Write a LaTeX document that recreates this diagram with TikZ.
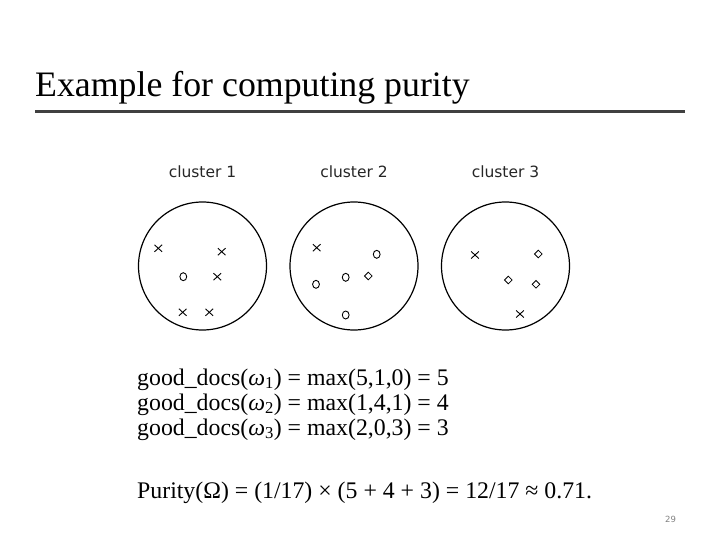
\documentclass[tikz,border=0pt]{standalone}
\usepackage{fontspec}
\setmainfont{Liberation Serif}
\newfontfamily\lblfont{DejaVu Sans}
\usetikzlibrary{shapes.geometric}
\begin{document}
\begin{tikzpicture}[x=1pt,y=-1pt,
  clus/.style={draw, line width=1.2pt, circle, minimum size=128pt, inner sep=0pt},
  clabel/.style={font=\lblfont\fontsize{15.5}{18}\selectfont, text=black!85},
  xm/.style={line width=0.9pt},
  formula/.style={anchor=base west, inner sep=0pt, font=\fontsize{23.8}{28}\selectfont}]
\useasboundingbox (0,0) rectangle (720,540);
% title
\node[anchor=base west, inner sep=0pt, font=\fontsize{35.8}{42}\selectfont] (title) at (35,97) {Example for computing purity};
\draw[line width=2.6pt, black!75] (35,111.5) coordinate (rl) -- (685,111.5) coordinate (rr);
% clusters
\node[clus] (c1) at (202.5,266) {};
\node[clus] (c2) at (354,266) {};
\node[clus] (c3) at (505.5,266) {};
\node[clabel] (l1) at (202.5,172) {cluster 1};
\node[clabel] (l2) at (354,172) {cluster 2};
\node[clabel] (l3) at (505.5,172) {cluster 3};
% marks
\newcommand{\xmk}[2]{\draw[xm] (#1-3.8,#2-3.5) -- (#1+3.8,#2+3.5) (#1-3.8,#2+3.5) -- (#1+3.8,#2-3.5);}
\newcommand{\omk}[2]{\draw[xm] (#1,#2) ellipse (3.4pt and 4pt);}
\newcommand{\dmk}[2]{\draw[line width=0.8pt] (#1-3.8,#2) -- (#1,#2-3.8) -- (#1+3.8,#2) -- (#1,#2+3.8) -- cycle;}
% cluster 1
\xmk{158.3}{248.3}
\xmk{221.7}{251.7}
\omk{183.3}{276.7}
\xmk{217.3}{276.7}
\xmk{182.7}{312.3}
\xmk{209.3}{312.3}
% cluster 2
\xmk{316.7}{247.7}
\omk{376.7}{254.3}
\omk{316}{284.3}
\omk{345.7}{277.3}
\dmk{368.3}{276}
\omk{345.7}{315}
% cluster 3
\xmk{475}{255}
\dmk{538.3}{254}
\dmk{508.3}{280}
\dmk{536}{284.3}
\xmk{520}{314}
% formulas
\node[formula] (f1) at (137,385) {good\_docs(\textit{ω}\textsubscript{1}) = max(5,1,0) = 5};
\node[formula] (f2) at (137,410) {good\_docs(\textit{ω}\textsubscript{2}) = max(1,4,1) = 4};
\node[formula] (f3) at (137,435) {good\_docs(\textit{ω}\textsubscript{3}) = max(2,0,3) = 3};
\node[formula] (p) at (137,498) {Purity(Ω) = (1/17) × (5 + 4 + 3) = 12/17 ≈ 0.71.};
\node[font=\lblfont\fontsize{8.5}{10}\selectfont, text=black!50] (pg) at (670.5,519) {29};
\end{tikzpicture}
\end{document}
